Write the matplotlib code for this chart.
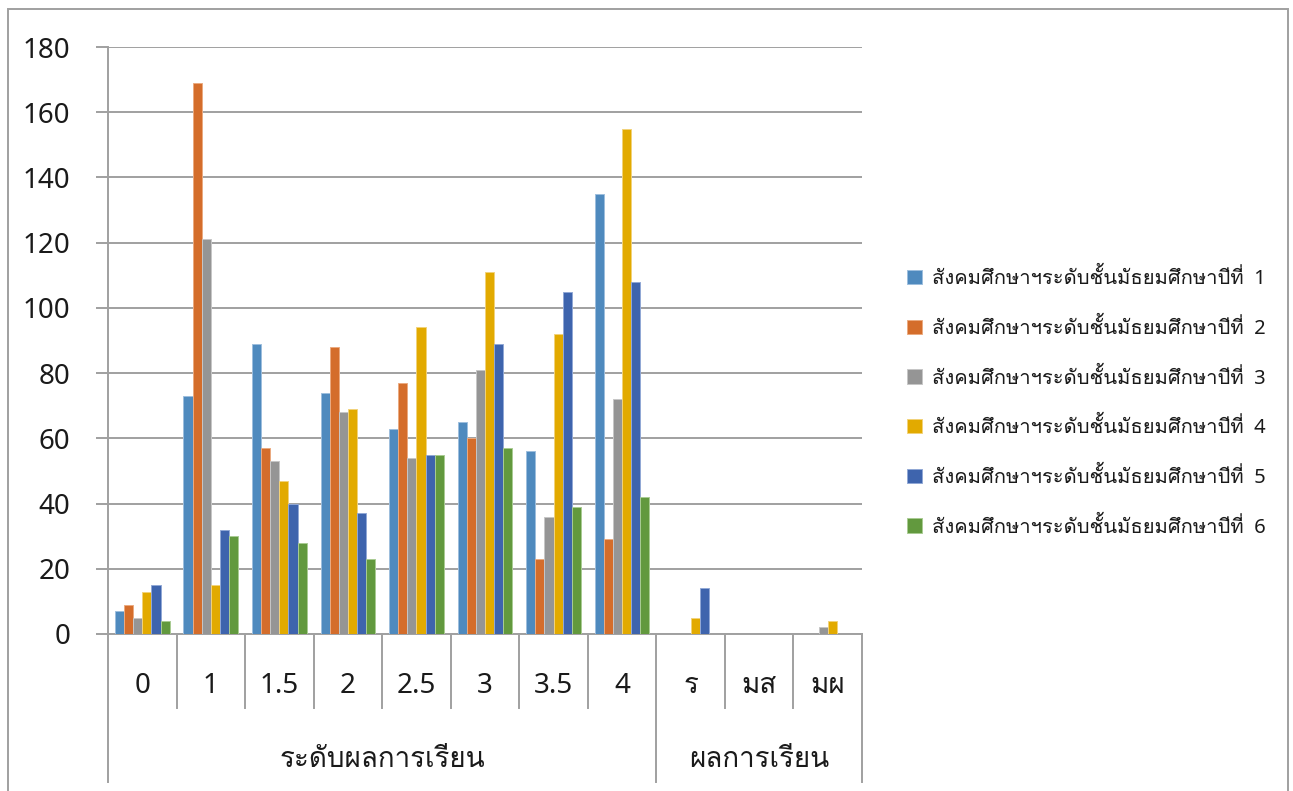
import matplotlib
matplotlib.use("Agg")
import matplotlib.pyplot as plt
from matplotlib import font_manager
from matplotlib.ft2font import FT2Font
from matplotlib.patches import Rectangle
from matplotlib.lines import Line2D
import matplotlib.transforms as mtransforms
import numpy as np

# ---------------- data ----------------
categories = ["0", "1", "1.5", "2", "2.5", "3", "3.5", "4", "ร", "มส", "มผ"]
groups = ["ระดับผลการเรียน", "ผลการเรียน"]
group_sizes = [8, 3]
series_names = ["สังคมศึกษาฯระดับชั้นมัธยมศึกษาปีที่  1",
                "สังคมศึกษาฯระดับชั้นมัธยมศึกษาปีที่  2",
                "สังคมศึกษาฯระดับชั้นมัธยมศึกษาปีที่  3",
                "สังคมศึกษาฯระดับชั้นมัธยมศึกษาปีที่  4",
                "สังคมศึกษาฯระดับชั้นมัธยมศึกษาปีที่  5",
                "สังคมศึกษาฯระดับชั้นมัธยมศึกษาปีที่  6"]
m1 = [7, 73, 89, 74, 63, 65, 56, 135, 0, 0, 0]
m2 = [9, 169, 57, 88, 77, 60, 23, 29, 0, 0, 0]
m3 = [5, 121, 53, 68, 54, 81, 36, 72, 0, 0, 2]
m4 = [13, 15, 47, 69, 94, 111, 92, 155, 5, 0, 4]
m5 = [15, 32, 40, 37, 55, 89, 105, 108, 14, 0, 0]
m6 = [4, 30, 28, 23, 55, 57, 39, 42, 0, 0, 0]
series = [m1, m2, m3, m4, m5, m6]
colors = ["#4F8ABE", "#D46D2B", "#959595", "#E2AA00", "#3E64AD", "#62993E"]
edge_colors = ["#9DBEDD", "#EBAA80", "#C6C6C6", "#F2D27A", "#91A8D6", "#A9CC93"]
yticks = [0, 20, 40, 60, 80, 100, 120, 140, 160, 180]

# ---------------- fonts ----------------
thai_fonts = []
for f in font_manager.fontManager.ttflist:
    try:
        cmap = FT2Font(f.fname).get_charmap()
        if 0x0E2A in cmap and 0x0E31 in cmap and 0x0E35 in cmap and 0x0E48 in cmap:
            if f.name not in thai_fonts:
                thai_fonts.append(f.name)
    except Exception:
        pass
thai_choice = None
for pref in ["Loma", "Garuda", "Norasi", "Noto Sans Thai Looped", "Noto Sans Thai"]:
    if pref in thai_fonts:
        thai_choice = pref
        break
if thai_choice is None and thai_fonts:
    thai_choice = thai_fonts[0]
family = ["Noto Sans"] + ([thai_choice] if thai_choice else []) + ["DejaVu Sans"]
plt.rcParams["font.family"] = family
TXT = "#1a1a1a"

W, H = 1293, 791
fig = plt.figure(figsize=(W / 100, H / 100), dpi=100)

def fx(px):
    return px / W

def fy(py):
    return 1 - py / H

ax_left, ax_right, ax_top, ax_bot = 108, 862, 47, 634
ax = fig.add_axes([fx(ax_left), fy(ax_bot), fx(ax_right - ax_left), (ax_bot - ax_top) / H])

n = len(categories)
ns = len(series)
x = np.arange(n)
bw = 0.133
for i, (vals, c, ec, name) in enumerate(zip(series, colors, edge_colors, series_names)):
    offs = (i - (ns - 1) / 2) * bw
    ax.bar(x + offs, vals, width=bw, color=c, edgecolor=ec, linewidth=0.7,
           label=name, zorder=3)

ax.set_xlim(-0.5, n - 0.5)
ax.set_ylim(0, 180)
ax.set_yticks(yticks)
ax.set_yticklabels([str(t) for t in yticks], fontsize=20, color=TXT)
ax.yaxis.grid(True, color="#a0a0a0", linewidth=1.4, zorder=0)
ax.tick_params(axis="y", length=9, color="#a0a0a0", width=1.4, pad=18)
ax.set_xticks([])
for s in ["top", "right", "left"]:
    ax.spines[s].set_visible(False)
ax.spines["bottom"].set_color("#a0a0a0")
ax.spines["bottom"].set_linewidth(1.4)

# custom multi-level category axis
trans = mtransforms.blended_transform_factory(ax.transData, fig.transFigure)
line_kw = dict(color="#a0a0a0", linewidth=1.4, transform=trans, clip_on=False)
fig.add_artist(Line2D([-0.5, -0.5], [fy(ax_top), fy(782)], **line_kw))
bounds = set(np.cumsum(group_sizes).tolist())
for b in range(1, n):
    bottom = 782 if b in bounds else 708
    fig.add_artist(Line2D([b - 0.5, b - 0.5], [fy(ax_bot), fy(bottom)], **line_kw))
fig.add_artist(Line2D([n - 0.5, n - 0.5], [fy(ax_bot), fy(782)], **line_kw))

for xi, lab in zip(x, categories):
    t = fig.text(0, fy(686), lab, transform=trans, ha="center", va="center",
                 fontsize=20, color=TXT)
    t.set_x(xi)

start = 0
for g, size in zip(groups, group_sizes):
    center = start + (size - 1) / 2
    t = fig.text(0, fy(760), g, transform=trans, ha="center", va="center",
                 fontsize=20, color=TXT)
    t.set_x(center)
    start += size

# legend
leg = fig.legend(loc="upper left", bbox_to_anchor=(fx(899), fy(260)), frameon=False,
                 fontsize=14.5, handlelength=0.72, handleheight=0.72, handletextpad=0.5,
                 labelspacing=1.42, borderaxespad=0)
for txt in leg.get_texts():
    txt.set_color(TXT)

# outer chart border
fig.add_artist(Rectangle((fx(8), -0.02), fx(1287.5 - 8), fy(9) + 0.02, fill=False,
                         edgecolor="#a0a0a0", linewidth=1.4, transform=fig.transFigure))

fig.savefig("out.png", dpi=100)
